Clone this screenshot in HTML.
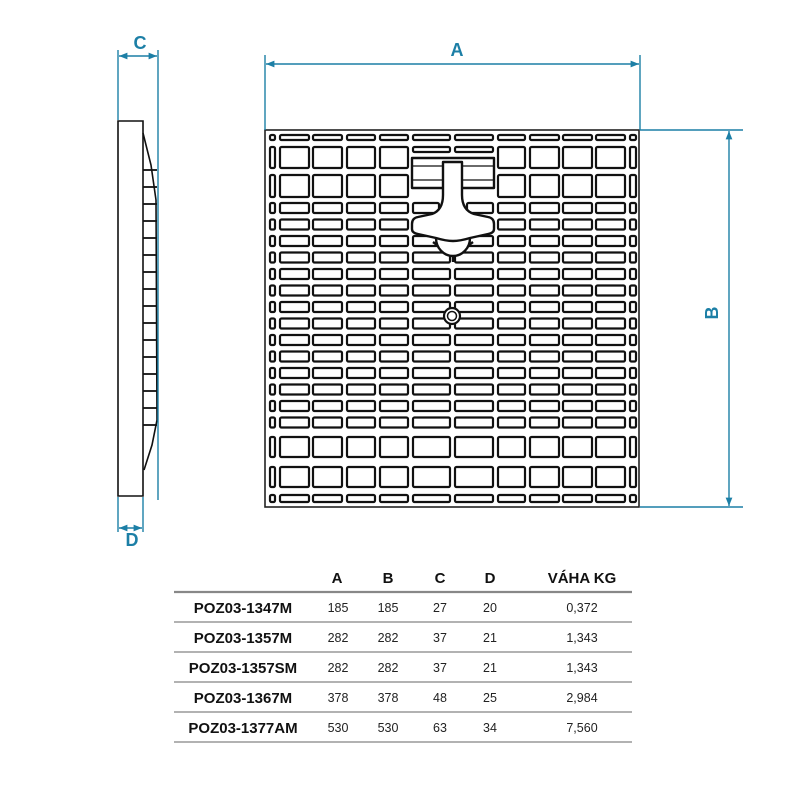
<!DOCTYPE html>
<html><head><meta charset="utf-8">
<style>
html,body{margin:0;padding:0;background:#fff;width:800px;height:800px;overflow:hidden}
svg{display:block}
</style></head>
<body>
<svg id="s" width="800" height="800" viewBox="0 0 800 800" xmlns="http://www.w3.org/2000/svg" font-family="Liberation Sans, Arial, sans-serif">
<defs>
<marker id="ar" viewBox="0 0 10 10" refX="10" refY="5" markerWidth="7" markerHeight="6" orient="auto-start-reverse"><path d="M0,1 L10,5 L0,9 z" fill="#1c7fa6"/></marker>
</defs>
<rect x="265" y="130" width="374" height="377" fill="#fff" stroke="#222" stroke-width="1.6"/>
<g id="grid" fill="#fff" stroke="#111" stroke-width="2.2"></g>
<g fill="#fff" stroke="#111" stroke-width="2.4" stroke-linejoin="round">
<rect x="412" y="158" width="82" height="30"/>
<line x1="433" y1="242" x2="441" y2="248"/><line x1="473" y1="242" x2="465" y2="248"/>
<path d="M436,238 A17,18 0 0 0 470,238 Z"/>
<line x1="453" y1="256" x2="453" y2="262"/>
<path d="M443,162 L462,162 L462,195 Q462,210 474,214 L488,217 Q494,218 494,224 L494,229 Q494,233 488,234 L470,238 Q460,241 453,241 Q446,241 436,238 L418,234 Q412,233 412,229 L412,224 Q412,218 418,217 L432,214 Q443,210 443,195 Z"/>
</g>
<g stroke="#111" stroke-width="1.2">
<line x1="413" y1="166" x2="443" y2="166"/><line x1="462" y1="166" x2="493" y2="166"/>
<line x1="413" y1="180" x2="443" y2="180"/><line x1="462" y1="180" x2="493" y2="180"/>
</g>
<circle cx="452" cy="316" r="8" fill="#fff" stroke="#111" stroke-width="2.2"/>
<circle cx="452" cy="316" r="4.5" fill="#fff" stroke="#111" stroke-width="1.5"/>

<g fill="none" stroke="#111" stroke-width="1.6">
<path d="M118,121 L143,121 L143,496 L118,496 Z" fill="#fff"/>
<path d="M143,133 L151,165 L156,200 L157,420 L152,445 L144,470"/>
</g>
<g id="rungs" stroke="#111" stroke-width="1.8"></g>

<g stroke="#1c7fa6" stroke-width="1.4" fill="none">
<line x1="118" y1="50" x2="118" y2="120"/><line x1="158" y1="50" x2="158" y2="500"/>
<line x1="119" y1="56" x2="157" y2="56" marker-start="url(#ar)" marker-end="url(#ar)"/>
<line x1="118" y1="497" x2="118" y2="532"/><line x1="143" y1="497" x2="143" y2="532"/>
<line x1="119" y1="528" x2="142" y2="528" marker-start="url(#ar)" marker-end="url(#ar)"/>
<line x1="265" y1="55" x2="265" y2="130"/><line x1="640" y1="55" x2="640" y2="130"/>
<line x1="266" y1="64" x2="639" y2="64" marker-start="url(#ar)" marker-end="url(#ar)"/>
<line x1="640" y1="130" x2="743" y2="130"/><line x1="640" y1="507" x2="743" y2="507"/>
<line x1="729" y1="131" x2="729" y2="506" marker-start="url(#ar)" marker-end="url(#ar)"/>
</g>
<g fill="#1c7fa6" font-weight="bold" font-size="18" text-anchor="middle">
<text x="140" y="49">C</text>
<text x="132" y="546">D</text>
<text x="457" y="56">A</text>
<text x="712" y="313" transform="rotate(-90 712 313)" dy="6">B</text>
</g>

<g stroke="#999" stroke-width="1.6">
<line x1="174" y1="592" x2="632" y2="592" stroke="#888" stroke-width="2.2"/>
<line x1="174" y1="622" x2="632" y2="622"/>
<line x1="174" y1="652" x2="632" y2="652"/>
<line x1="174" y1="682" x2="632" y2="682"/>
<line x1="174" y1="712" x2="632" y2="712"/>
<line x1="174" y1="742" x2="632" y2="742"/>
</g>
<g font-weight="bold" font-size="15" fill="#111" text-anchor="middle">
<text x="337" y="583">A</text><text x="388" y="583">B</text><text x="440" y="583">C</text><text x="490" y="583">D</text><text x="582" y="583">VÁHA KG</text>
<text x="243" y="613">POZ03-1347M</text>
<text x="243" y="643">POZ03-1357M</text>
<text x="243" y="673">POZ03-1357SM</text>
<text x="243" y="703">POZ03-1367M</text>
<text x="243" y="733">POZ03-1377AM</text>
</g>
<g font-size="12.5" fill="#222" text-anchor="middle">
<text x="338" y="612">185</text><text x="388" y="612">185</text><text x="440" y="612">27</text><text x="490" y="612">20</text><text x="582" y="612">0,372</text>
<text x="338" y="642">282</text><text x="388" y="642">282</text><text x="440" y="642">37</text><text x="490" y="642">21</text><text x="582" y="642">1,343</text>
<text x="338" y="672">282</text><text x="388" y="672">282</text><text x="440" y="672">37</text><text x="490" y="672">21</text><text x="582" y="672">1,343</text>
<text x="338" y="702">378</text><text x="388" y="702">378</text><text x="440" y="702">48</text><text x="490" y="702">25</text><text x="582" y="702">2,984</text>
<text x="338" y="732">530</text><text x="388" y="732">530</text><text x="440" y="732">63</text><text x="490" y="732">34</text><text x="582" y="732">7,560</text>
</g>
</svg>
<script>
(function(){
var NS="http://www.w3.org/2000/svg";
var cols=[[270,275],[280,309],[313,342],[347,375],[380,408],[413,450],[455,493],[498,525],[530,559],[563,592],[596,625],[630,636]];
var rows=[[135,140],[147,168],[175,197]];
for(var i=0;i<14;i++){var y=203+i*16.5;rows.push([y,y+10]);}
rows.push([437,457],[467,487],[495,502]);
var g=document.getElementById("grid");
function r(x1,y1,x2,y2){var e=document.createElementNS(NS,"rect");e.setAttribute("x",x1);e.setAttribute("y",y1);e.setAttribute("width",x2-x1);e.setAttribute("height",y2-y1);e.setAttribute("rx",1.5);g.appendChild(e);}
for(var ri=0;ri<rows.length;ri++){for(var ci=0;ci<cols.length;ci++){
 var c=cols[ci],w=rows[ri];
 if(ci==5||ci==6){
  if(ri==1){r(c[0],147,c[1],152);continue;}
  if(ri==2){continue;}
  if(ri==3){ if(ci==5) r(413,w[0],439,w[1]); else r(467,w[0],493,w[1]); continue;}
 }
 r(c[0],w[0],c[1],w[1]);
}}
var rg=document.getElementById("rungs");
for(var y=170;y<=440;y+=17){var l=document.createElementNS(NS,"line");l.setAttribute("x1",143);l.setAttribute("x2",157);l.setAttribute("y1",y);l.setAttribute("y2",y);rg.appendChild(l);}
})();
</script>
</body></html>
